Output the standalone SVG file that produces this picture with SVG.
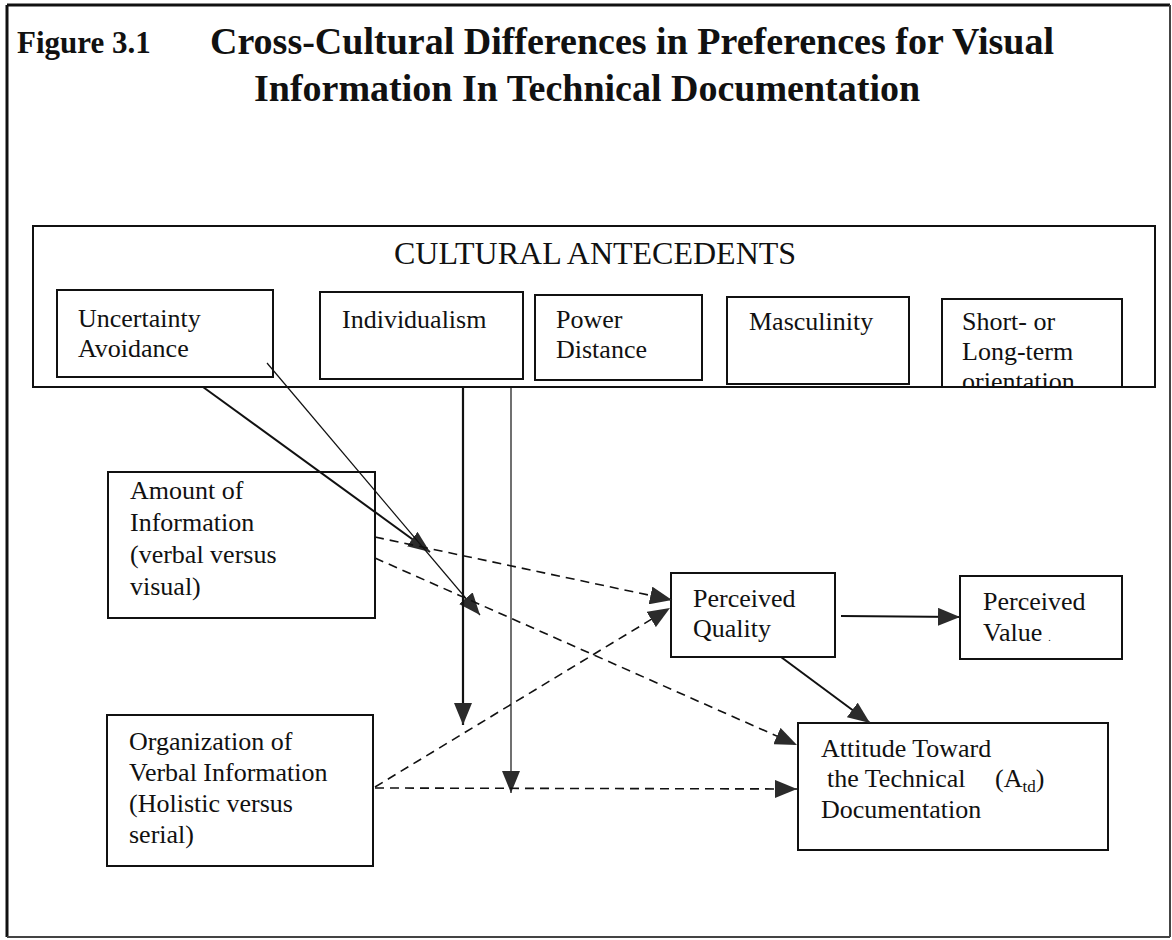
<svg xmlns="http://www.w3.org/2000/svg" width="1172" height="940" viewBox="0 0 1172 940">
<style>
.t{font-family:"Liberation Serif","Times New Roman",serif;fill:#111;}
.b{fill:#fff;stroke:#111;stroke-width:2;}
.l{stroke:#111;fill:none;}
.d{stroke:#111;fill:none;stroke-width:1.6;stroke-dasharray:9 6;}
</style>
<defs>
<marker id="ah" viewBox="0 0 22 18" refX="22" refY="9" markerWidth="22" markerHeight="18" orient="auto" markerUnits="userSpaceOnUse">
<path d="M0,0 L22,9 L0,18 z" fill="#2b2b2b"/>
</marker>
<clipPath id="shortclip"><rect x="942" y="299" width="180" height="88"/></clipPath>
</defs>
<rect width="1172" height="940" fill="#fff"/>
<g id="frame">
<line x1="7" y1="5" x2="1170" y2="5" stroke="#111" stroke-width="3"/>
<line x1="7" y1="5" x2="7" y2="937" stroke="#111" stroke-width="3"/>
<line x1="7" y1="937" x2="1170" y2="937" stroke="#444" stroke-width="2"/>
<line x1="1170" y1="5" x2="1170" y2="937" stroke="#444" stroke-width="2"/>
</g>
<g id="title">
<text class="t" x="17" y="53" font-size="31" font-weight="bold">Figure 3.1</text>
<text class="t" x="210" y="54" font-size="38" font-weight="bold">Cross-Cultural Differences in Preferences for Visual</text>
<text class="t" x="254" y="101" font-size="38" font-weight="bold">Information In Technical Documentation</text>
</g>
<g id="cultural-antecedents">
<rect class="b" x="33" y="226" width="1122" height="161"/>
<text class="t" x="394" y="264" font-size="32">CULTURAL ANTECEDENTS</text>
</g>
<g id="uncertainty-avoidance">
<rect class="b" x="57" y="290" width="216" height="87"/>
<text class="t" x="78" y="327" font-size="26">Uncertainty</text>
<text class="t" x="78" y="357" font-size="26">Avoidance</text>
</g>
<g id="individualism">
<rect class="b" x="320" y="292" width="203" height="87"/>
<text class="t" x="342" y="328" font-size="26">Individualism</text>
</g>
<g id="power-distance">
<rect class="b" x="535" y="295" width="167" height="85"/>
<text class="t" x="556" y="328" font-size="26">Power</text>
<text class="t" x="556" y="358" font-size="26">Distance</text>
</g>
<g id="masculinity">
<rect class="b" x="727" y="297" width="182" height="87"/>
<text class="t" x="749" y="330" font-size="26">Masculinity</text>
</g>
<g id="short-long-term">
<rect class="b" x="942" y="299" width="180" height="88"/>
<g clip-path="url(#shortclip)">
<text class="t" x="962" y="330" font-size="26">Short- or</text>
<text class="t" x="962" y="360" font-size="26">Long-term</text>
<text class="t" x="962" y="390" font-size="26">orientation</text>
</g>
</g>
<g id="amount-of-information">
<rect class="b" x="108" y="472" width="267" height="146"/>
<text class="t" x="130" y="499" font-size="26">Amount of</text>
<text class="t" x="130" y="531" font-size="26">Information</text>
<text class="t" x="130" y="563" font-size="26">(verbal versus</text>
<text class="t" x="130" y="595" font-size="26">visual)</text>
</g>
<g id="organization-of-verbal-information">
<rect class="b" x="107" y="715" width="266" height="151"/>
<text class="t" x="129" y="750" font-size="26">Organization of</text>
<text class="t" x="129" y="781" font-size="26">Verbal Information</text>
<text class="t" x="129" y="812" font-size="26">(Holistic versus</text>
<text class="t" x="129" y="843" font-size="26">serial)</text>
</g>
<g id="perceived-quality">
<rect class="b" x="671" y="573" width="164" height="84"/>
<text class="t" x="693" y="607" font-size="26">Perceived</text>
<text class="t" x="693" y="637" font-size="26">Quality</text>
</g>
<g id="perceived-value">
<rect class="b" x="960" y="576" width="162" height="83"/>
<text class="t" x="983" y="610" font-size="26">Perceived</text>
<text class="t" x="983" y="641" font-size="26">Value<tspan font-size="10" dx="6">.</tspan></text>
</g>
<g id="attitude-toward-documentation">
<rect class="b" x="798" y="723" width="310" height="127"/>
<text class="t" x="821" y="757" font-size="26">Attitude Toward</text>
<text class="t" x="827" y="787" font-size="26">the Technical</text>
<text class="t" x="995" y="787" font-size="26">(A<tspan font-size="17" dy="5">td</tspan><tspan dy="-5">)</tspan></text>
<text class="t" x="821" y="818" font-size="26">Documentation</text>
</g>
<g id="connectors">
<line class="l" x1="203" y1="387" x2="430" y2="552" stroke-width="2" marker-end="url(#ah)"/>
<line class="l" x1="267" y1="363" x2="480" y2="615" stroke-width="1.2" marker-end="url(#ah)"/>
<line class="l" x1="463" y1="387" x2="463" y2="725" stroke-width="2.2" marker-end="url(#ah)"/>
<line class="l" x1="511" y1="387" x2="511" y2="793" stroke-width="1.2" marker-end="url(#ah)"/>
<line class="d" x1="375" y1="537" x2="672" y2="600" marker-end="url(#ah)"/>
<line class="d" x1="375" y1="558" x2="797" y2="745" marker-end="url(#ah)"/>
<line class="d" x1="375" y1="787" x2="670" y2="608" marker-end="url(#ah)"/>
<line class="d" x1="375" y1="788" x2="797" y2="789" marker-end="url(#ah)"/>
<line class="l" x1="841" y1="616" x2="960" y2="617" stroke-width="2" marker-end="url(#ah)"/>
<line class="l" x1="781" y1="657" x2="870" y2="723" stroke-width="2" marker-end="url(#ah)"/>
</g>
</svg>
